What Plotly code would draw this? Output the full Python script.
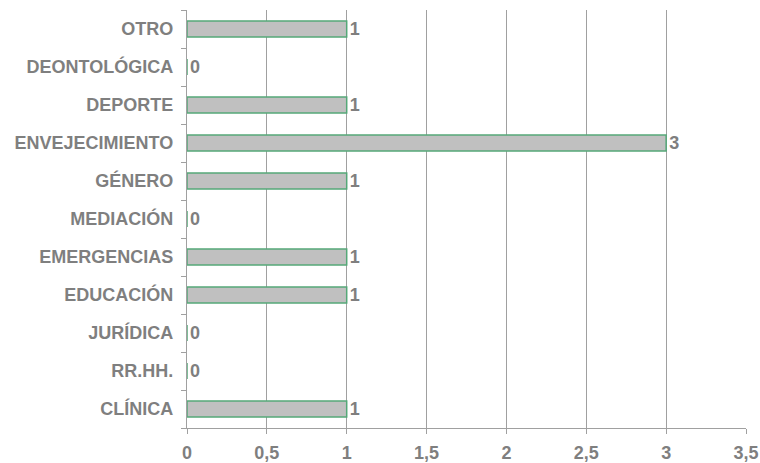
import plotly.graph_objects as go

categories = ["CLÍNICA", "RR.HH.", "JURÍDICA", "EDUCACIÓN", "EMERGENCIAS",
              "MEDIACIÓN", "GÉNERO", "ENVEJECIMIENTO", "DEPORTE", "DEONTOLÓGICA", "OTRO"]
values = [1, 0, 0, 1, 1, 0, 1, 3, 1, 0, 1]
x_ticks = [0, 0.5, 1, 1.5, 2, 2.5, 3, 3.5]
x_tick_labels = ["0", "0,5", "1", "1,5", "2", "2,5", "3", "3,5"]

txt_color = "#7f7f7f"
grid_color = "#a0a0a0"
font_family = "Liberation Sans, Arial, sans-serif"
fsize = 18

fig = go.Figure(go.Bar(
    x=values, y=categories, orientation="h",
    width=0.42,
    marker=dict(color="#c0c0c0", line=dict(color="#55a878", width=1.5)),
    text=[str(v) for v in values], textposition="outside",
    textfont=dict(family=font_family, size=fsize, color=txt_color, weight="bold"),
    constraintext="none",
    cliponaxis=False,
    hoverinfo="skip",
))

fig.update_layout(
    width=760, height=463,
    margin=dict(l=187, r=14, t=10, b=35, autoexpand=False),
    paper_bgcolor="white", plot_bgcolor="white",
    showlegend=False,
    separators=",.",
    font=dict(family=font_family, color=txt_color),
)
fig.update_xaxes(
    range=[0, 3.5], tickvals=x_ticks, ticktext=x_tick_labels,
    showgrid=True, gridcolor=grid_color, gridwidth=1.3,
    showline=True, linecolor=grid_color, linewidth=1.3,
    ticks="outside", ticklen=5, tickcolor=grid_color,
    tickfont=dict(family=font_family, size=fsize, color=txt_color, weight="bold"),
    ticklabelstandoff=3,
    zeroline=False, automargin=False,
)
fig.update_yaxes(
    categoryorder="array", categoryarray=categories,
    showgrid=False,
    showline=True, linecolor=grid_color, linewidth=1.3,
    ticks="outside", ticklen=5, tickcolor=grid_color, tickson="boundaries",
    tickfont=dict(family=font_family, size=fsize, color=txt_color, weight="bold"),
    ticklabelstandoff=9, automargin=False,
)

fig.write_html("out.html", config={"displayModeBar": False},
               post_script="document.body.style.margin='0';")
